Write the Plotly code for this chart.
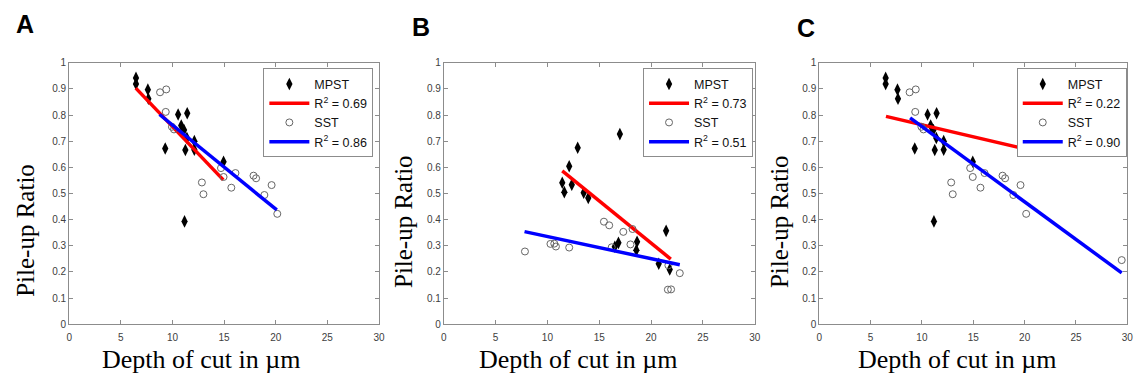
import plotly.graph_objects as go

# ---------------- data ----------------
panel_letters = ["A", "B", "C"]

# Panel A
a_mpst_x = [6.47, 6.47, 7.62, 7.67, 9.3, 10.55, 11.43, 10.85, 11.12, 11.4, 11.25, 12.12, 12.12, 14.95, 11.17]
a_mpst_y = [0.942, 0.919, 0.897, 0.862, 0.672, 0.802, 0.807, 0.760, 0.743, 0.712, 0.666, 0.700, 0.667, 0.621, 0.393]
a_sst_x = [8.8, 9.4, 9.35, 9.95, 10.15, 12.85, 13.0, 14.7, 14.95, 15.7, 16.1, 17.85, 18.1, 18.9, 19.6, 20.15]
a_sst_y = [0.887, 0.898, 0.812, 0.755, 0.745, 0.542, 0.497, 0.597, 0.563, 0.522, 0.578, 0.568, 0.558, 0.494, 0.532, 0.422]
a_fit_mpst_x = [6.45, 14.92]
a_fit_mpst_y = [0.903, 0.552]
a_fit_sst_x = [8.75, 20.1]
a_fit_sst_y = [0.802, 0.437]
a_r2 = ["0.69", "0.86"]

# Panel B
b_mpst_x = [11.43, 11.63, 12.1, 12.35, 12.92, 13.5, 13.94, 16.99, 16.5, 16.85, 18.65, 18.58, 21.45, 20.74, 21.8]
b_mpst_y = [0.541, 0.505, 0.604, 0.533, 0.675, 0.503, 0.483, 0.727, 0.296, 0.311, 0.315, 0.283, 0.357, 0.231, 0.209]
b_sst_x = [7.83, 10.29, 10.66, 10.82, 12.1, 15.45, 15.96, 16.2, 17.32, 18.01, 18.21, 21.62, 21.93, 22.77, 21.67]
b_sst_y = [0.278, 0.307, 0.308, 0.297, 0.293, 0.392, 0.378, 0.294, 0.353, 0.305, 0.364, 0.132, 0.133, 0.195, 0.225]
b_fit_mpst_x = [11.43, 21.9]
b_fit_mpst_y = [0.586, 0.249]
b_fit_sst_x = [7.79, 22.77]
b_fit_sst_y = [0.354, 0.227]
b_r2 = ["0.73", "0.51"]

# Panel C
c_mpst_x = a_mpst_x
c_mpst_y = a_mpst_y
c_sst_x = a_sst_x + [29.45]
c_sst_y = a_sst_y + [0.245]
c_fit_mpst_x = [6.5, 20.6]
c_fit_mpst_y = [0.795, 0.665]
c_fit_sst_x = [8.85, 29.45]
c_fit_sst_y = [0.789, 0.196]
c_r2 = ["0.22", "0.90"]

x_title = "Depth of cut in µm"
y_title = "Pile-up Ratio"

# ---------------- layout geometry ----------------
W, H = 1140, 383
x_domains = [[66.7 / W, 379.0 / W], [444.3 / W, 757.7 / W], [822.7 / W, 1133.3 / W]]
y_domain = [1 - 327.7 / H, 1 - 59.3 / H]
legend_right = [373.3 / W, 756.0 / W, 1132.7 / W]
legend_top = 1 - 65.0 / H
letter_pos = [(22, 20), (421, 23), (809, 24)]
xtitle_pos = [(200, 364), (580, 364), (962, 364)]
ytitle_pos = [(23, 231), (403, 222), (782, 222)]

panels = [
    (a_mpst_x, a_mpst_y, a_fit_mpst_x, a_fit_mpst_y, a_sst_x, a_sst_y, a_fit_sst_x, a_fit_sst_y, a_r2),
    (b_mpst_x, b_mpst_y, b_fit_mpst_x, b_fit_mpst_y, b_sst_x, b_sst_y, b_fit_sst_x, b_fit_sst_y, b_r2),
    (c_mpst_x, c_mpst_y, c_fit_mpst_x, c_fit_mpst_y, c_sst_x, c_sst_y, c_fit_sst_x, c_fit_sst_y, c_r2),
]

fig = go.Figure()
axis_common = dict(
    showline=True, linecolor="#8c8c8c", linewidth=1, mirror="allticks",
    ticks="inside", ticklen=4, tickcolor="#8c8c8c", showgrid=False, zeroline=False,
    tickfont=dict(family="Liberation Sans, Arial", size=10, color="#404040"),
)
serif = dict(family="Liberation Serif, Times New Roman", size=26, color="black")
for i, (mx, my, fmx, fmy, sx, sy, fsx, fsy, r2) in enumerate(panels):
    sfx = "" if i == 0 else str(i + 1)
    xa, ya = "x" + sfx, "y" + sfx
    lg = "legend" + sfx
    fig.add_trace(go.Scatter(x=mx, y=my, mode="markers", name="MPST", xaxis=xa, yaxis=ya, legend=lg,
                             marker=dict(symbol="diamond-tall", size=9, color="black",
                                         line=dict(width=0))))
    fig.add_trace(go.Scatter(x=fmx, y=fmy, mode="lines", name="R<sup>2</sup> = " + r2[0], xaxis=xa, yaxis=ya,
                             legend=lg, line=dict(color="#ff0000", width=3.5)))
    fig.add_trace(go.Scatter(x=sx, y=sy, mode="markers", name="SST", xaxis=xa, yaxis=ya, legend=lg,
                             marker=dict(symbol="circle-open", size=7, color="#666666",
                                         line=dict(width=1, color="#666666"))))
    fig.add_trace(go.Scatter(x=fsx, y=fsy, mode="lines", name="R<sup>2</sup> = " + r2[1], xaxis=xa, yaxis=ya,
                             legend=lg, line=dict(color="#0000ff", width=3.5)))

    xkey = "xaxis" + sfx
    ykey = "yaxis" + sfx
    fig.layout[xkey] = dict(axis_common, domain=x_domains[i], range=[0, 30], dtick=5, anchor=ya, ticklabelstandoff=4)
    fig.layout[ykey] = dict(axis_common, domain=y_domain, range=[0, 1], dtick=0.1, anchor=xa)
    fig.layout[lg] = dict(x=legend_right[i], y=legend_top, xanchor="right", yanchor="top",
                          bgcolor="white", bordercolor="#8c8c8c", borderwidth=1, itemwidth=40,
                          tracegroupgap=0,
                          font=dict(family="Liberation Sans, Arial", size=12.5, color="#111111"))
    px, py = letter_pos[i]
    fig.add_annotation(x=px / W, y=1 - py / H, xref="paper", yref="paper", text="<b>" + panel_letters[i] + "</b>",
                       showarrow=False, xanchor="center", yanchor="middle",
                       font=dict(family="Liberation Sans, Arial", size=25, color="black"))
    tx, ty = xtitle_pos[i]
    fig.add_annotation(x=tx / W, y=1 - ty / H, xref="paper", yref="paper", text=x_title,
                       showarrow=False, xanchor="center", yanchor="middle", font=serif)
    tx, ty = ytitle_pos[i]
    fig.add_annotation(x=tx / W, y=1 - ty / H, xref="paper", yref="paper", text=y_title, textangle=-90,
                       showarrow=False, xanchor="center", yanchor="middle",
                       font=dict(serif, size=25))

fig.update_layout(width=W, height=H, margin=dict(l=0, r=0, t=0, b=0),
                  paper_bgcolor="white", plot_bgcolor="white", showlegend=True)
fig.write_html("out.html")
